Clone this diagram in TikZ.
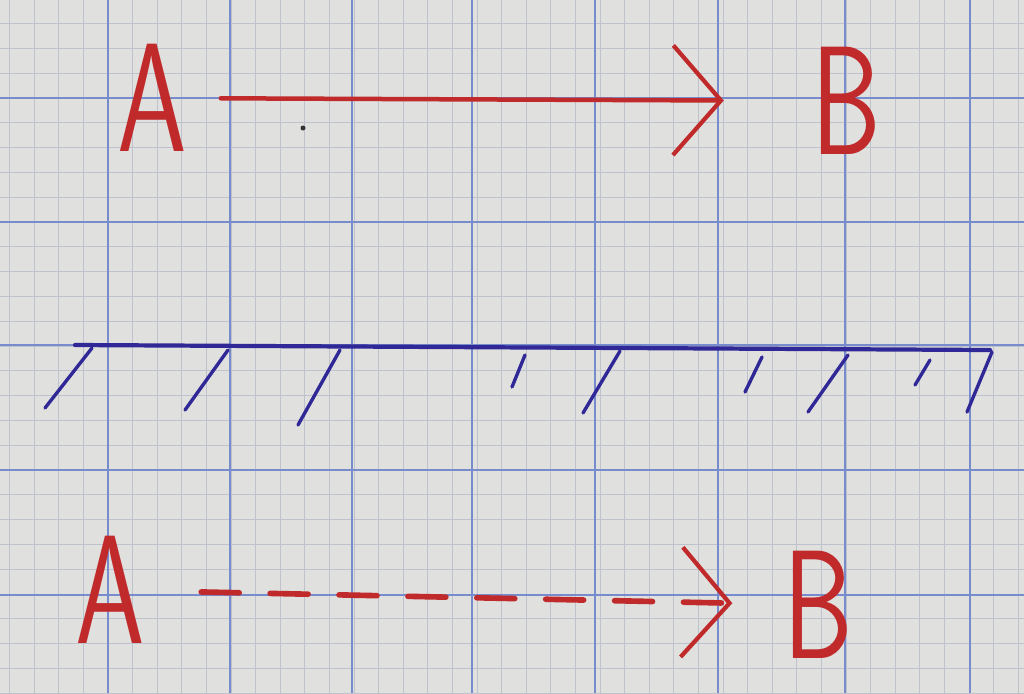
\documentclass[tikz,border=0pt]{standalone}
\usetikzlibrary{arrows.meta}
\definecolor{paper}{RGB}{224,224,222}
\definecolor{minorgrid}{RGB}{190,194,204}
\definecolor{majorgrid}{RGB}{120,140,205}
\definecolor{redpen}{RGB}{192,42,42}
\definecolor{bluepen}{RGB}{48,40,150}
\tikzset{
  minorline/.style={minorgrid, line width=0.5pt},
  majorline/.style={majorgrid, line width=0.9pt},
  letter/.style={text=redpen, font=\sffamily\fontsize{110}{110}\selectfont, inner sep=0pt, xscale=0.72},
  redvec/.style={redpen, line width=3.2pt, line cap=round,
    -{Straight Barb[length=34pt,width=78pt,line width=3pt]}},
  mirror/.style={bluepen, line width=3pt, line cap=round},
  hatch/.style={bluepen, line width=2.4pt, line cap=round}
}
\begin{document}
\begin{tikzpicture}[x=0.025cm,y=-0.025cm]
\useasboundingbox (0,0) rectangle (1024,693);
\fill[paper] (0,0) rectangle (1024,693);
\begin{scope}
\clip (0,0) rectangle (1024,693);
\foreach \i in {0,...,43} \draw[minorline] ({-15+\i*24.6},0) -- ++(0,693);
\foreach \i in {0,...,30} \draw[minorline] (0,{-26+\i*24.8}) -- ++(1024,0);
\foreach \x in {108,230,352,472,595,718,845,970} \draw[majorline] (\x,0) -- ++(0,693);
\foreach \y in {98,222,345,470,595} \draw[majorline] (0,\y) -- ++(1024,0);
\end{scope}
% top vector
\node[letter] (A1) at (152,98) {A};
\node[letter] (B1) at (846,101) {B};
\draw[redvec, shorten <=24pt, shorten >=62pt] (A1) -- (B1);
\fill[black!80] (303,128) circle (2.5);
% mirror line
\coordinate (M1) at (75,345);
\coordinate (M2) at (990,350);
\draw[mirror] (M1) -- (M2);
\foreach \a/\b/\c/\d in {92/348/45/408, 228/350/185/410, 340/350/298/425, 525/355/512/387,
  620/351/583/413, 762/357/745/392, 848/355/808/412, 930/360/915/385, 992/352/967/412}
  \draw[hatch] (\a,\b) -- (\c,\d);
% bottom dashed vector
\node[letter] (A2) at (110,590) {A};
\node[letter] (B2) at (818,605) {B};
\draw[redvec, line width=4pt, dash pattern=on 27pt off 22pt, shorten <=40pt, shorten >=36pt] (A2) -- (B2);
\end{tikzpicture}
\end{document}
